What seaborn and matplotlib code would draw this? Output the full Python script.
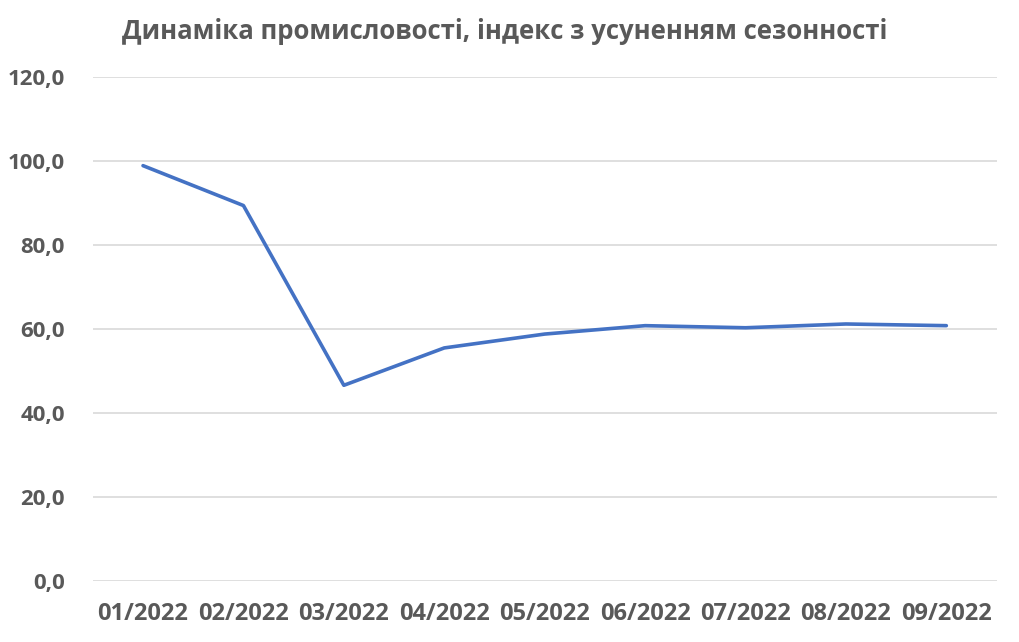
import pandas as pd
import matplotlib
matplotlib.use("Agg")
import matplotlib.pyplot as plt
import seaborn as sns
from matplotlib.ticker import FuncFormatter

months = ["01/2022", "02/2022", "03/2022", "04/2022", "05/2022",
          "06/2022", "07/2022", "08/2022", "09/2022"]
index_values = [98.9, 89.4, 46.6, 55.5, 58.8, 60.8, 60.3, 61.2, 60.8]

df = pd.DataFrame({"month": months, "value": index_values})

sns.set_style("white")
plt.rcParams["font.family"] = ["Open Sans", "DejaVu Sans"]

text_color = "#595959"

fig = plt.figure(figsize=(10.2, 6.42), dpi=100)
ax = fig.add_axes([0.091, 0.095, 0.886, 0.785])

sns.lineplot(x="month", y="value", data=df, ax=ax, color="#4472C4",
             linewidth=2.6, sort=False)

ax.set_xlim(-0.5, len(months) - 0.5)
ax.set_ylim(0, 120)
ax.set_yticks(range(0, 121, 20))
ax.yaxis.set_major_formatter(FuncFormatter(lambda v, p: f"{v:.1f}".replace(".", ",")))
ax.grid(axis="y", color="#D9D9D9", linewidth=1.2)
ax.set_axisbelow(True)
for side in ["top", "right", "left", "bottom"]:
    ax.spines[side].set_visible(False)

ax.tick_params(axis="both", length=0, labelcolor=text_color)
ax.tick_params(axis="y", pad=20, labelsize=16)
ax.tick_params(axis="x", pad=15, labelsize=17)
for lbl in ax.get_xticklabels() + ax.get_yticklabels():
    lbl.set_fontweight("bold")

ax.set_xlabel("")
ax.set_ylabel("")
fig.text(0.495, 0.951, "Динаміка промисловості, індекс з усуненням сезонності",
         ha="center", va="center", fontsize=18.5, fontweight="bold", color=text_color)

fig.savefig("out.png", dpi=100)
